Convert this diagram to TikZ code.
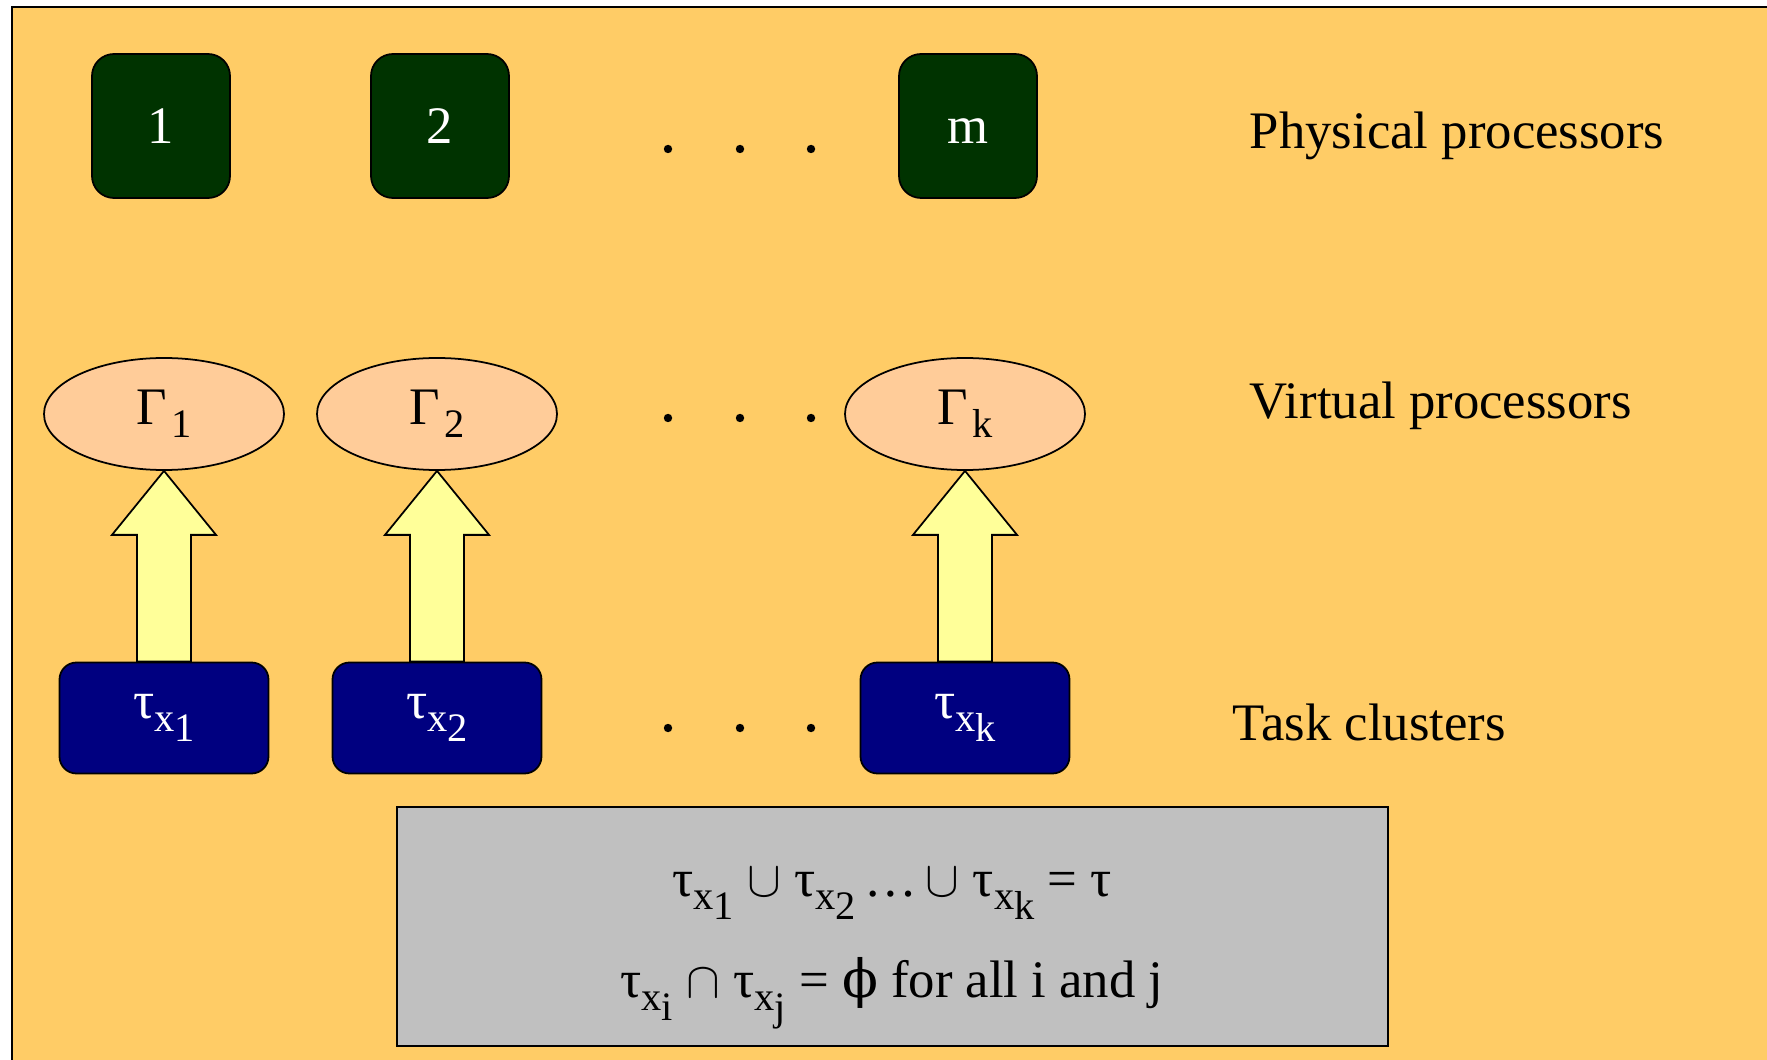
\documentclass[tikz,border=0pt]{standalone}
\usepackage{fontspec}
\setmainfont{Liberation Serif}
\newfontfamily\symbfont{DejaVu Serif}
\usetikzlibrary{calc, shapes.geometric}

\definecolor{bgorange}{HTML}{FFCC66}
\definecolor{physgreen}{HTML}{003300}
\definecolor{virtpeach}{HTML}{FFCC99}
\definecolor{clusterblue}{HTML}{000080}
\definecolor{arrowyellow}{HTML}{FFFF99}
\definecolor{sumgray}{HTML}{C0C0C0}

\newcommand{\lowsub}[1]{\raisebox{-0.55ex}{\fontsize{11.5}{13}\selectfont #1}}
\newcommand{\tx}[1]{τ\lowsub{x\lowsub{#1}}}
\newcommand{\gm}[1]{Γ\kern0.08em\lowsub{#1}}

\begin{document}
\begin{tikzpicture}[line width=0.5pt,
          font=\fontsize{15}{18}\selectfont,
          physical/.style={draw, fill=physgreen, text=white, rounded corners=0.22cm,
            minimum width=1.38cm, minimum height=1.44cm, text height=1.0em, text depth=0pt},
          virtual/.style={ellipse, draw, fill=virtpeach, inner sep=0pt,
            minimum width=2.40cm, minimum height=1.12cm},
          cluster/.style={draw, fill=clusterblue, text=white, rounded corners=0.17cm,
            minimum width=2.09cm, minimum height=1.11cm},
          blockarrow/.style={draw, fill=arrowyellow, line join=miter},
          sumbox/.style={draw, line width=0.8pt, fill=sumgray,
            minimum width=9.91cm, minimum height=2.39cm},
          layer/.style={anchor=base west, inner sep=0pt},
        ]
          \useasboundingbox (0,0) rectangle (17.67,10.59);
          \clip (0,0) rectangle (17.67,10.59);
          \draw[line width=0.8pt, fill=bgorange] (0.12,-0.2) rectangle (18,10.52);

          \node[physical] (p1) at (1.61, 9.33) {1};
          \node[physical] (p2) at (4.40, 9.33) {2};
          \node[physical] (pm) at (9.68, 9.33) {m};

          \node[virtual] (g1) at (1.64, 6.45) {\gm{1}};
          \node[virtual] (g2) at (4.37, 6.45) {\gm{2}};
          \node[virtual] (gk) at (9.65, 6.45) {\gm{k}};

          \node[cluster] (t1) at (1.64, 3.41) {\tx{1}};
          \node[cluster] (t2) at (4.37, 3.41) {\tx{2}};
          \node[cluster] (tk) at (9.65, 3.41) {\tx{k}};

          \foreach \i in {1,2,k}
            \draw[blockarrow] ($(t\i.north)+(-0.27,0)$) -- ($(g\i.south)+(-0.27,-0.64)$)
              -- ($(g\i.south)+(-0.52,-0.64)$) -- (g\i.south)
              -- ($(g\i.south)+(0.52,-0.64)$) -- ($(g\i.south)+(0.27,-0.64)$)
              -- ($(t\i.north)+(0.27,0)$) -- cycle;

          \foreach \y in {9.10, 6.41, 3.31}
            \foreach \x in {6.68, 7.40, 8.11}
              \fill (\x, \y) circle (0.042);

          \node[layer] (lp) at (12.49, 9.10) {Physical processors};
          \node[layer] (lv) at (12.49, 6.40) {Virtual processors};
          \node[layer] (lt) at (12.32, 3.19) {Task clusters};

          \node[sumbox] (sum) at (8.925, 1.325) {};
          \node[anchor=base] (eq1) at (8.92, 1.63)
            {\tx{1} $\cup$ \tx{2}\,…\,$\cup$ \tx{k} = τ};
          \node[anchor=base] (eq2) at (8.92, 0.62)
            {\tx{i} $\cap$ \tx{j} = {\symbfont ϕ} for all i and j};
        \end{tikzpicture}
\end{document}
